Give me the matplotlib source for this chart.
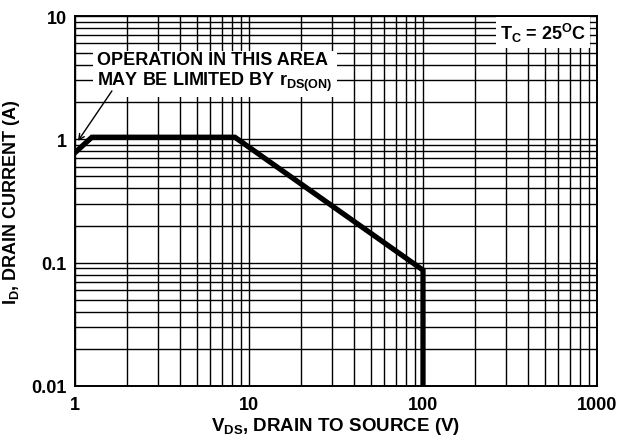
import matplotlib
matplotlib.use("Agg")
import matplotlib.pyplot as plt

# SOA boundary
vds = [1.0, 1.25, 8.3, 100.0, 100.0]
id_a = [0.78, 1.04, 1.04, 0.087, 0.01]

x_ticks = [1, 10, 100, 1000]
x_labels = ["1", "10", "100", "1000"]
y_ticks = [0.01, 0.1, 1, 10]
y_labels = ["0.01", "0.1", "1", "10"]

plt.rcParams['font.family'] = ['Liberation Sans', 'DejaVu Sans']
plt.rcParams['font.weight'] = 'bold'
plt.rcParams['mathtext.fontset'] = 'custom'
plt.rcParams['mathtext.rm'] = 'Liberation Sans:bold'
plt.rcParams['mathtext.it'] = 'Liberation Sans:bold'
plt.rcParams['mathtext.bf'] = 'Liberation Sans:bold'

fig = plt.figure(figsize=(6.19, 4.39), dpi=100)
ax = fig.add_axes([75 / 619, 52 / 439, 522 / 619, 370 / 439])

ax.set_xscale('log')
ax.set_yscale('log')
ax.set_xlim(1, 1000)
ax.set_ylim(0.01, 10)

ax.grid(True, which='both', color='black', linewidth=1.0)
ax.set_axisbelow(True)
for sp in ax.spines.values():
    sp.set_linewidth(1.4)

ax.plot(vds, id_a, color='black', linewidth=3.8, solid_joinstyle='miter', zorder=5)

ax.set_xticks(x_ticks)
ax.set_xticklabels(x_labels)
ax.set_yticks(y_ticks)
ax.set_yticklabels(y_labels)
ax.tick_params(which='both', length=0, labelsize=13)
ax.tick_params(axis='x', pad=7)
ax.tick_params(axis='y', pad=6)

ax.set_xlabel(r"$\mathrm{V_{DS}}$, DRAIN TO SOURCE (V)", fontsize=13.5, fontweight='bold', labelpad=2)
ax.set_ylabel(r"$\mathrm{I_D}$, DRAIN CURRENT (A)", fontsize=13, fontweight='bold', labelpad=7)

# annotation box
ax.text(1.34, 3.5, "OPERATION IN THIS AREA\nMAY BE LIMITED BY $\\mathrm{r_{DS(ON)}}$",
        fontsize=13, fontweight='bold', ha='left', va='center', linespacing=1.1,
        bbox=dict(facecolor='white', edgecolor='none', pad=3), zorder=6)
ax.annotate("", xy=(1.04, 0.97), xytext=(1.63, 2.47),
            arrowprops=dict(arrowstyle='->', color='black', lw=1.0,
                            shrinkA=0, shrinkB=0), zorder=6)

ax.text(0.979, 0.955, r"$\mathrm{T_C}$ = 25$\mathrm{^O}$C", transform=ax.transAxes,
        fontsize=13, fontweight='bold', ha='right', va='center',
        bbox=dict(facecolor='white', edgecolor='none', pad=3), zorder=6)

fig.savefig("out.png", dpi=100)
